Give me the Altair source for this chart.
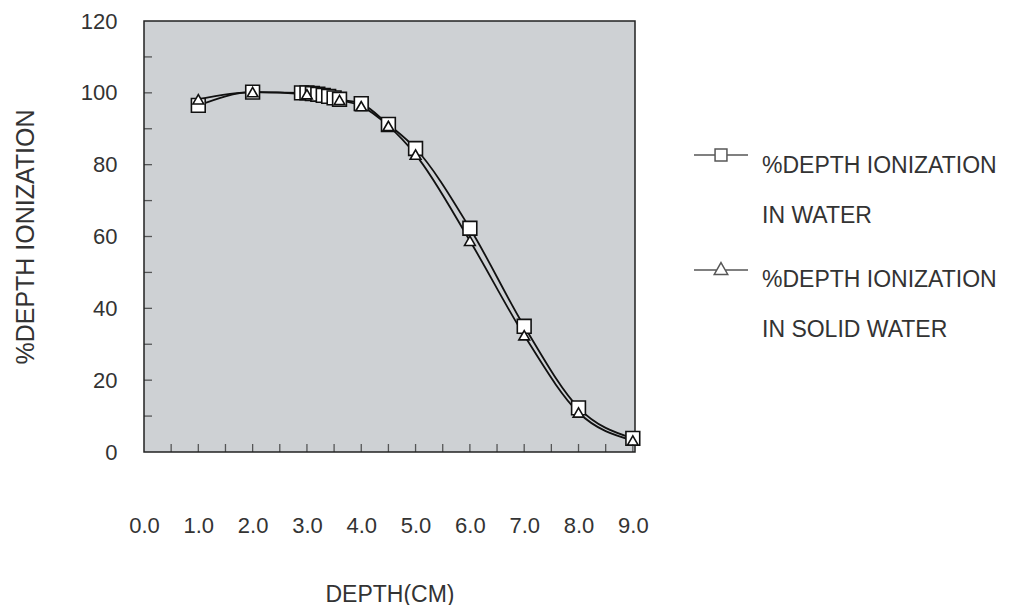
import altair as alt
import pandas as pd

# ---- data ----
depth_water = [1.0, 2.0, 2.9, 3.0, 3.1, 3.2, 3.3, 3.4, 3.5, 3.6, 4.0, 4.5, 5.0, 6.0, 7.0, 8.0, 9.0]
ion_water = [96.5, 100.2, 100.0, 100.0, 99.8, 99.6, 99.3, 99.0, 98.6, 98.2, 97.0, 91.2, 84.5, 62.3, 35.0, 12.3, 3.8]

depth_solid = [1.0, 2.0, 3.0, 3.6, 4.0, 4.5, 5.0, 6.0, 7.0, 8.0, 9.0]
ion_solid = [98.2, 100.2, 99.6, 98.0, 96.3, 90.8, 82.8, 58.8, 32.5, 11.0, 3.2]

series_labels = ["%DEPTH IONIZATION|\u2800|IN WATER", "%DEPTH IONIZATION|\u2800|IN SOLID WATER"]

x_ticks = [0.0, 1.0, 2.0, 3.0, 4.0, 5.0, 6.0, 7.0, 8.0, 9.0]
x_minor = [0.5, 1.0, 1.5, 2.0, 2.5, 3.0, 3.5, 4.0, 4.5, 5.0, 5.5, 6.0, 6.5, 7.0, 7.5, 8.0, 8.5, 9.0]
y_ticks = [0, 20, 40, 60, 80, 100, 120]
y_minor = [10, 20, 30, 40, 50, 60, 70, 80, 90, 100, 110]

water = pd.DataFrame({"depth": depth_water, "ion": ion_water, "series": series_labels[0]})
solid = pd.DataFrame({"depth": depth_solid, "ion": ion_solid, "series": series_labels[1]})
both = pd.concat([water, solid], ignore_index=True)

FONT = "Liberation Sans"
TXT = "#333333"
W, H = 491, 431

xs = alt.Scale(domain=[0, 9.04], nice=False, zero=False)
ys = alt.Scale(domain=[0, 120], nice=False)

x_enc = alt.X("depth:Q", scale=xs,
              axis=alt.Axis(values=x_ticks, format=".1f", title="DEPTH(CM)", grid=False,
                            ticks=False, domain=False, labelPadding=63, titlePadding=47,
                            labelFlush=False, labelOverlap=False,
                            labelFontSize=22, titleFontSize=23, labelFont=FONT, titleFont=FONT,
                            labelColor=TXT, titleColor=TXT, titleFontWeight="normal"))
y_enc = alt.Y("ion:Q", scale=ys,
              axis=alt.Axis(values=y_ticks, title="%DEPTH IONIZATION", grid=False,
                            ticks=False, domain=False, labelPadding=27, titlePadding=42,
                            labelFlush=False, labelOverlap=False,
                            labelFontSize=22, titleFontSize=25, labelFont=FONT, titleFont=FONT,
                            labelColor=TXT, titleColor=TXT, titleFontWeight="normal"))

lines = alt.Chart(both).mark_line(color="#111111", strokeWidth=1.8, interpolate="monotone").encode(
    x=x_enc, y=y_enc, detail="series:N")

squares = alt.Chart(water).mark_point(shape="square", size=190, filled=True, fill="white",
                                      stroke="#111111", strokeWidth=1.6, opacity=1).encode(
    x="depth:Q", y="ion:Q")
triangles = alt.Chart(solid).mark_point(shape="triangle-up", size=115, filled=True, fill="white",
                                        stroke="#111111", strokeWidth=1.6, opacity=1).encode(
    x="depth:Q", y="ion:Q")

xt = alt.Chart(pd.DataFrame({"t": x_minor})).mark_tick(color="#222222", thickness=1.3, size=8).encode(
    x=alt.X("t:Q", scale=xs), y=alt.value(H - 4))
yt = alt.Chart(pd.DataFrame({"t": y_minor})).mark_tick(color="#222222", thickness=1.3, size=8).encode(
    y=alt.Y("t:Q", scale=ys), x=alt.value(4))

sq_path = "M-1,0L-0.22,0M0.22,0L1,0M-0.22,-0.22L0.22,-0.22L0.22,0.22L-0.22,0.22Z"
tri_path = "M-1,0.04L-0.17,0.04M0.17,0.04L1,0.04M0,-0.24L0.25,0.2L-0.25,0.2Z"

legend_layer = alt.Chart(both).transform_filter("false").mark_point(filled=False, color="#111111").encode(
    x="depth:Q", y="ion:Q",
    shape=alt.Shape("series:N", scale=alt.Scale(domain=series_labels, range=[sq_path, tri_path]),
                    legend=alt.Legend(orient="none", legendX=549, legendY=106, title=None,
                                      labelExpr="split(datum.label, '|')", labelBaseline="top",
                                      labelFontSize=23, labelFont=FONT, labelColor=TXT,
                                      labelOffset=13, labelLimit=500, symbolSize=2916,
                                      symbolStrokeWidth=1.5, symbolStrokeColor="#111111",
                                      symbolFillColor="white", rowPadding=13, padding=0)))

chart = alt.layer(lines, squares, triangles, xt, yt, legend_layer).properties(
    width=W, height=H, background="white",
    padding={"left": 5, "top": 2, "right": 5, "bottom": 5}
).configure_view(
    fill="#ced1d4", stroke="#222222", strokeWidth=1.5
)

chart.save("out.html", embed_options={"renderer": "svg", "actions": False})
